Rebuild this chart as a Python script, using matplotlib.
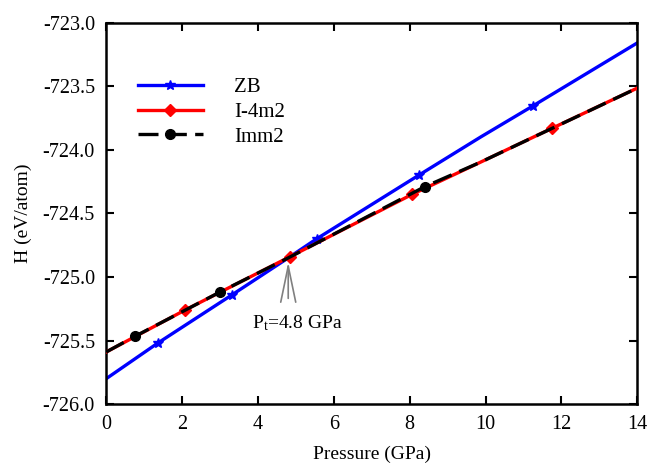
import matplotlib
matplotlib.use("Agg")
import matplotlib.pyplot as plt

plt.rcParams['font.family'] = ['Liberation Serif', 'DejaVu Serif']
plt.rcParams['font.size'] = 14

# enthalpy vs pressure for the three phases
p_zb = [0, 1.36, 3.32, 4.8, 5.55, 8.24, 9.87, 11.25, 14]
h_zb = [-725.80, -725.52, -725.14, -724.85, -724.70, -724.20, -723.90, -723.655, -723.16]
mark_zb = [1, 2, 4, 5, 7]

p_i4m2 = [0, 2.08, 4.85, 8.07, 9.85, 11.76, 14]
h_i4m2 = [-725.59, -725.26, -724.84, -724.35, -724.10, -723.83, -723.515]
mark_i4m2 = [1, 2, 3, 5]

p_imm2 = [0, 0.77, 2.99, 4.8, 8.40, 9.85, 14]
h_imm2 = [-725.59, -725.465, -725.12, -724.85, -724.29, -724.10, -723.515]
mark_imm2 = [1, 2, 4]

x_ticks = [0, 2, 4, 6, 8, 10, 12, 14]
y_ticks = [-726.0, -725.5, -725.0, -724.5, -724.0, -723.5, -723.0]

p_t = 4.8
h_t = -724.86

fig = plt.figure(figsize=(6.47, 4.70), dpi=100)
ax = fig.add_axes([0.164, 0.140, 0.821, 0.812])

ax.plot(p_zb, h_zb, color='blue', lw=2.4, marker='*', ms=7,
        markevery=mark_zb, label='ZB', zorder=2)
ax.plot(p_i4m2, h_i4m2, color='red', lw=2.4, marker='D', ms=6,
        markevery=mark_i4m2, label='I-4m2', zorder=3)
ax.plot(p_imm2, h_imm2, color='black', lw=2.4, marker='o', ms=7,
        markevery=mark_imm2, dashes=(6, 2.5), label='Imm2', zorder=4)

# transition pressure arrow and label
ax.annotate('', xy=(p_t, h_t), xytext=(p_t, -725.19),
            arrowprops=dict(arrowstyle='->, head_length=1.3, head_width=0.27',
                            color='gray', lw=1.2, mutation_scale=20))
ax.text(5.05, -725.36, r'$\mathregular{P_t}$=4.8 GPa', ha='center', va='center',
        fontsize=14)

ax.set_xlim(0, 14)
ax.set_ylim(-726.0, -723.0)
ax.set_xticks(x_ticks)
ax.set_yticks(y_ticks)
ax.set_yticklabels(['%.1f' % v for v in y_ticks])
ax.tick_params(direction='in', length=6, width=1.5, top=True, right=True,
               pad=8, labelsize=14.5)
for s in ax.spines.values():
    s.set_linewidth(1.8)

ax.set_xlabel('Pressure (GPa)', fontsize=14, labelpad=8)
ax.set_ylabel('H (eV/atom)', fontsize=14, labelpad=8)

ax.legend(loc='upper left', bbox_to_anchor=(0.025, 0.905), frameon=False,
          handlelength=3.1, handletextpad=1.5, labelspacing=0.25, fontsize=15)

fig.savefig('out.png', dpi=100)
